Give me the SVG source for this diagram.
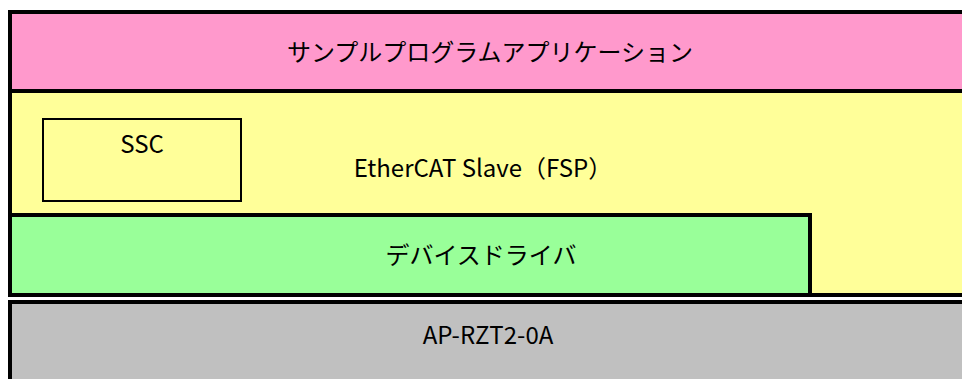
<svg xmlns="http://www.w3.org/2000/svg" width="962" height="379" viewBox="0 0 962 379">
<style>
.layer{stroke:#000;stroke-width:4}
.box{stroke:#000;stroke-width:2}
.t{font-family:"Noto Sans CJK JP","Noto Sans",sans-serif;font-size:24px;fill:#000;text-anchor:middle}
</style>
<rect width="962" height="379" fill="#fff"/>
<g id="app">
<rect class="layer" x="10" y="12" width="990" height="79" fill="#FF99CC"/>
<text class="t" x="490" y="61">サンプルプログラムアプリケーション</text>
</g>
<g id="ethercat">
<rect class="layer" x="10" y="91" width="990" height="204" fill="#FFFF99"/>
<text class="t" x="483" y="177">EtherCAT Slave（FSP）</text>
</g>
<g id="ssc">
<rect class="box" x="43" y="119" width="198" height="82" fill="#FFFF99"/>
<text class="t" x="142" y="153">SSC</text>
</g>
<g id="driver">
<rect class="layer" x="10" y="215" width="800" height="80" fill="#99FF99"/>
<text class="t" x="481" y="264">デバイスドライバ</text>
</g>
<g id="board">
<rect class="layer" x="10" y="302" width="990" height="100" fill="#C0C0C0"/>
<text class="t" x="488" y="344">AP-RZT2-0A</text>
</g>
<g id="connectors"/>
</svg>
